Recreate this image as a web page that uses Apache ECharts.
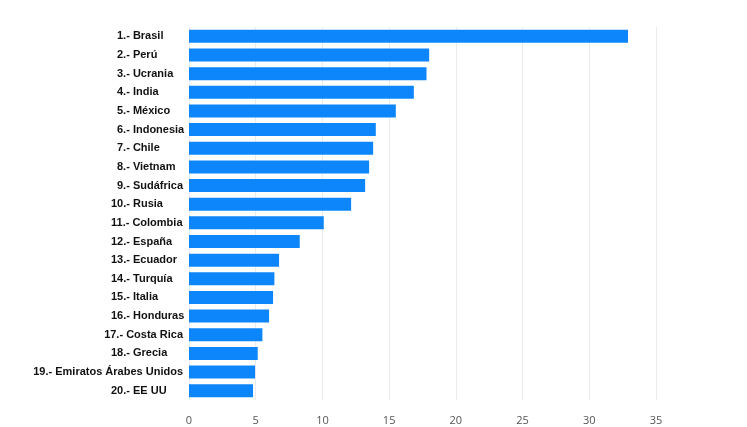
<!DOCTYPE html>
<html>
<head>
<meta charset="utf-8">
<style>
  html, body { margin: 0; padding: 0; background: #fff; }
  #chart { width: 747px; height: 427px; }
</style>
<script src="https://cdn.jsdelivr.net/npm/echarts@6/dist/echarts.min.js"></script>
</head>
<body>
<div id="chart"></div>
<script>
// países (de arriba a abajo)
var paises = ['1.- Brasil', '2.- Perú', '3.- Ucrania', '4.- India', '5.- México',
  '6.- Indonesia', '7.- Chile', '8.- Vietnam', '9.- Sudáfrica', '10.- Rusia',
  '11.- Colombia', '12.- España', '13.- Ecuador', '14.- Turquía', '15.- Italia',
  '16.- Honduras', '17.- Costa Rica', '18.- Grecia', '19.- Emiratos Árabes Unidos', '20.- EE UU'];
// valores
var valores = [32.9, 18.0, 17.8, 16.85, 15.5, 14.0, 13.8, 13.5, 13.2, 12.15,
  10.1, 8.3, 6.75, 6.4, 6.3, 6.0, 5.5, 5.15, 4.95, 4.8];
// marcas del eje x
var ejeMin = 0, ejeMax = 35, ejePaso = 5;

var chart = echarts.init(document.getElementById('chart'));

var etiqueta = { color: '#111', fontSize: 11, fontWeight: 'bold', fontFamily: 'Liberation Sans' };

var option = {
  animation: false,
  grid: { left: 189, right: 91, top: 27, bottom: 27 },
  xAxis: {
    type: 'value',
    min: ejeMin,
    max: ejeMax,
    interval: ejePaso,
    axisLine: { show: false },
    axisTick: { show: false },
    axisLabel: { color: '#555', fontSize: 11, fontFamily: 'Open Sans', margin: 15 },
    splitLine: { lineStyle: { color: '#ebebeb' } }
  },
  yAxis: {
    type: 'category',
    inverse: true,
    data: paises,
    axisLine: { show: false },
    axisTick: { show: false },
    axisLabel: Object.assign({
      margin: 6,
      // etiquetas cortas alineadas a la izquierda dentro de una caja fija
      formatter: function (v) {
        if (v.length > 14) return v;
        return v.indexOf('.') === 1 ? '{b|' + v + '}' : '{a|' + v + '}';
      },
      rich: {
        a: Object.assign({ width: 72, align: 'left' }, etiqueta),
        b: Object.assign({ width: 66, align: 'left' }, etiqueta)
      }
    }, etiqueta)
  },
  series: [{
    type: 'bar',
    data: valores,
    barWidth: 13,
    itemStyle: { color: '#0d86fc' }
  }]
};

chart.setOption(option);
</script>
</body>
</html>
